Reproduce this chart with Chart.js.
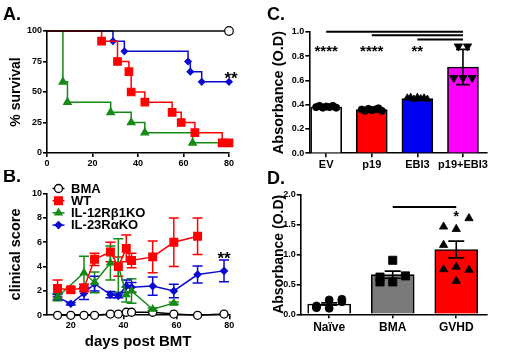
<!DOCTYPE html>
<html>
<head>
<meta charset="utf-8">
<script src="https://cdn.jsdelivr.net/npm/chart.js"></script>
<style>
  html, body { margin: 0; padding: 0; background: #fff; }
  #wrap { position: relative; width: 520px; height: 358px; overflow: hidden; }
  canvas { position: absolute; }
</style>
</head>
<body>
<div id="wrap">
  <canvas id="chartA" width="260" height="170" style="left:0px;top:0px"></canvas>
  <canvas id="chartB" width="260" height="188" style="left:0px;top:170px"></canvas>
  <canvas id="chartC" width="260" height="170" style="left:260px;top:0px"></canvas>
  <canvas id="chartD" width="260" height="188" style="left:260px;top:170px"></canvas>
</div>
<script>
// A. survival (step curves)
const survDaysBMA = [0, 80]
const survBMA = [100, 100]
const survDaysWT = [0, 24, 31, 36, 37, 43, 55, 59, 65, 77, 80]
const survWT = [100, 91.7, 75, 66.7, 50, 41.7, 33.3, 25, 16.7, 8.3, 8.3]
const survDaysIL12 = [0, 7, 9, 28, 37, 43, 64, 77]
const survIL12 = [100, 58.3, 41.7, 33.3, 25, 16.7, 8.3, 8.3]
const survDaysIL23 = [0, 29, 34, 62, 63, 68, 80]
const survIL23 = [100, 91.7, 83.3, 75, 66.7, 58.3, 58.3]
const survTicksX = [0, 20, 40, 60, 80]
const survTicksY = [0, 25, 50, 75, 100]

// B. clinical score (mean +/- SEM)
const scoreDays = [15, 20, 25, 29, 35, 38, 41, 43, 51, 59, 68, 78]
const scoreBMA = [0, 0, 0, 0, 0.1, 0.1, 0.25, 0.25, 0.25, 0.1, 0, 0.1]
const scoreDaysWT = [15, 20, 25, 29, 35, 38, 41, 43, 51, 59, 68]
const scoreWT = [2.2, 2.1, 2.25, 4.6, 5.2, 4.0, 5.5, 4.5, 4.8, 6.0, 6.5]
const semWT = [0.7, 0.2, 0.3, 0.5, 0.8, 0.8, 1.1, 0.6, 1.3, 2.0, 1.5]
const scoreDaysIL12 = [15, 25, 29, 35, 38, 41, 43, 51, 59]
const scoreIL12 = [1.5, 3.5, 2.7, 4.3, 4.1, 1.7, 2.0, 0.5, 1.0]
const semIL12 = [0.3, 1.35, 0.85, 1.4, 2.2, 0.6, 1.0, 0.1, 0.1]
const scoreIL23 = [1.5, 0.95, 1.8, 2.6, 1.7, 1.6, 2.4, 2.3, 2.4, 2.0, 3.35, 3.65]
const semIL23 = [0.2, 0.1, 0.5, 0.6, 0.25, 0.15, 0.5, 0.4, 0.75, 0.55, 0.7, 0.9]
const scoreTicksX = [20, 40, 60, 80]
const scoreTicksY = [0, 2, 4, 6, 8, 10]

// C. absorbance, transfected cells
const cLabels = ['EV', 'p19', 'EBI3', 'p19+EBI3']
const cMeans = [0.38, 0.36, 0.45, 0.71]
const cSem = [0.005, 0.005, 0.005, 0.145]
const cPointsEV = [0.38, 0.39, 0.375, 0.385, 0.38, 0.39, 0.375]
const cPointsP19 = [0.36, 0.35, 0.365, 0.355, 0.36, 0.37, 0.35]
const cPointsEBI3 = [0.455, 0.46, 0.445, 0.46, 0.45, 0.455, 0.445]
const cPointsBoth = [0.62, 0.88, 0.62, 0.88, 0.62]
const cTicksY = [0, 0.2, 0.4, 0.6, 0.8, 1.0]
const cStars = ['****', '****', '**', '']
const cCompare = [[0, 3, 1.0], [1, 3, 0.97], [2, 3, 0.935]]

// D. absorbance, serum
const dLabels = ['Naïve', 'BMA', 'GVHD']
const dMeans = [0.17, 0.66, 1.08]
const dSem = [0.02, 0.06, 0.14]
const dPointsNaive = [0.14, 0.24, 0.21, 0.11, 0.10, 0.25, 0.12]
const dPointsBMA = [0.62, 0.9, 0.64, 0.54, 0.54]
const dPointsGVHD = [1.46, 1.42, 1.6, 0.75, 0.79, 0.74, 1.155, 0.555]
const dTicksY = [0, 0.5, 1.0, 1.5, 2.0]
const dStars = ['', '', '*']
const dCompare = [[1, 2, 1.79]]

const FONT = '"Liberation Sans", Arial, Helvetica, sans-serif'
const BLACK = '#000'
const RED = '#ff0000'
const GREEN = '#158a15'
const BLUE = '#0a0ad0'

function axis(extra) {
    const ticks = Object.assign({
        color: BLACK,
        font: {family: FONT, size: 9, weight: 'bold'},
        padding: 1,
        autoSkip: false,
        maxRotation: 0
    }, extra.ticks || {})
    return Object.assign({
        border: {display: true, color: BLACK, width: 1.6},
        grid: {display: true, drawOnChartArea: false, drawTicks: true, tickLength: 4, color: BLACK, lineWidth: 1.6, offset: false}
    }, extra, {ticks: ticks})
}

const fixedTicks = (values) => (scale) => { scale.ticks = values.map(v => ({value: v})) }

function axisTitle(text, size, padding) {
    return {display: true, text: text, color: BLACK, font: {family: FONT, size: size, weight: 'bold'}, padding: padding}
}

function drawMarker(ctx, style, x, y, r, fill, stroke, lw) {
    ctx.beginPath()
    if (style === 'circle') {
        ctx.arc(x, y, r, 0, Math.PI * 2)
    } else if (style === 'rect') {
        const s = r * Math.SQRT1_2
        ctx.rect(x - s, y - s, 2 * s, 2 * s)
    } else if (style === 'triangle') {
        ctx.moveTo(x, y - r)
        ctx.lineTo(x + r * 0.866, y + r * 0.5)
        ctx.lineTo(x - r * 0.866, y + r * 0.5)
        ctx.closePath()
    } else {
        ctx.moveTo(x, y - r)
        ctx.lineTo(x + r, y)
        ctx.lineTo(x, y + r)
        ctx.lineTo(x - r, y)
        ctx.closePath()
    }
    ctx.fillStyle = fill
    ctx.fill()
    ctx.lineWidth = lw
    ctx.strokeStyle = stroke
    ctx.stroke()
}

function drawStars(ctx, text, x, yCenter, size) {
    ctx.save()
    ctx.font = `bold ${size}px ${FONT}`
    ctx.fillStyle = BLACK
    ctx.textAlign = 'center'
    ctx.textBaseline = 'alphabetic'
    ctx.fillText(text, x, yCenter + 0.55 * size)
    ctx.restore()
}

function panelLetter(letter, x, y) {
    return {
        id: 'panelLetter',
        afterDraw(chart) {
            const ctx = chart.ctx
            ctx.save()
            ctx.font = `bold 18px ${FONT}`
            ctx.fillStyle = BLACK
            ctx.textAlign = 'left'
            ctx.textBaseline = 'alphabetic'
            ctx.fillText(letter, x, y)
            ctx.restore()
        }
    }
}

// error bars from dataset.errors, drawn through the chart scales
function drawErrors(chart, onTop) {
    const ctx = chart.ctx
    const yScale = chart.scales.y
    chart.data.datasets.forEach((ds, di) => {
        if (!ds.errors || !!ds.errorsOnTop !== onTop) return
        const meta = chart.getDatasetMeta(di)
        ctx.save()
        ctx.strokeStyle = ds.errorColor || ds.borderColor
        ctx.lineWidth = ds.errorWidth || 1.5
        meta.data.forEach((el, i) => {
            const e = ds.errors[i]
            if (!e) return
            const v = meta.controller.getParsed(i).y
            const top = yScale.getPixelForValue(v + e)
            const bot = yScale.getPixelForValue(v - e)
            const half = ds.capWidth / 2
            ctx.beginPath()
            ctx.moveTo(el.x, top); ctx.lineTo(el.x, bot)
            ctx.moveTo(el.x - half, top); ctx.lineTo(el.x + half, top)
            ctx.moveTo(el.x - half, bot); ctx.lineTo(el.x + half, bot)
            ctx.stroke()
        })
        ctx.restore()
    })
}

const errorBars = {
    id: 'errorBars',
    beforeDatasetsDraw(chart) { drawErrors(chart, false) },
    afterDatasetsDraw(chart) { drawErrors(chart, true) }
}

// significance bars + stars above bar groups
function significance(compare, stars, starValue, starSize) {
    return {
        id: 'significance',
        afterDraw(chart) {
            const ctx = chart.ctx
            const xs = chart.scales.x
            const ys = chart.scales.y
            ctx.save()
            ctx.strokeStyle = BLACK
            ctx.lineWidth = 2
            compare.forEach(([a, b, v]) => {
                const y = ys.getPixelForValue(v)
                ctx.beginPath()
                ctx.moveTo(xs.getPixelForValue(a), y)
                ctx.lineTo(xs.getPixelForValue(b), y)
                ctx.stroke()
            })
            ctx.restore()
            stars.forEach((s, i) => {
                if (s) drawStars(ctx, s, xs.getPixelForValue(i), ys.getPixelForValue(starValue), starSize)
            })
        }
    }
}

const baseOptions = {
    responsive: false,
    animation: false,
    events: [],
    plugins: {legend: {display: false}, tooltip: {enabled: false}}
}

// ---------- A ----------
function survSet(label, days, vals, color, style, radius, order, fill) {
    return {
        label: label,
        data: days.map((d, i) => ({x: d, y: vals[i]})),
        borderColor: color,
        backgroundColor: color,
        pointBackgroundColor: fill || color,
        borderWidth: 1.5,
        stepped: true,
        pointStyle: style,
        pointRadius: (ctx) => ctx.dataIndex === 0 ? 0 : radius,
        pointBorderWidth: 1.2,
        clip: false,
        order: order
    }
}

new Chart(document.getElementById('chartA'), {
    type: 'line',
    data: {
        datasets: [
            survSet('BMA', survDaysBMA, survBMA, BLACK, 'circle', 4.3, 0, '#fff'),
            survSet('WT', survDaysWT, survWT, RED, 'rect', 5.3, 1),
            survSet('IL-12Rβ1KO', survDaysIL12, survIL12, GREEN, 'triangle', 4.4, 3),
            survSet('IL-23RαKO', survDaysIL23, survIL23, BLUE, 'rectRot', 3.2, 2)
        ]
    },
    options: {
        ...baseOptions,
        layout: {padding: {left: 0, right: 31, top: 31, bottom: 0}},
        scales: {
            x: axis({type: 'linear', min: 0, max: 80, afterFit: (s) => { s.height = 17 }, afterBuildTicks: fixedTicks(survTicksX)}),
            y: axis({
                min: 0, max: 100,
                afterFit: (s) => { s.width = 47 },
                afterBuildTicks: fixedTicks(survTicksY),
                title: axisTitle('% survival', 14, {top: 7.6, bottom: 0})
            })
        }
    },
    plugins: [panelLetter('A.', 3, 20), {
        id: 'starsA',
        afterDraw(chart) {
            drawStars(chart.ctx, '**', chart.scales.x.getPixelForValue(80) + 2, chart.scales.y.getPixelForValue(64), 17)
        }
    }]
})

// ---------- B ----------
function scoreSet(label, days, vals, sem, color, style, radius, order, fill) {
    return {
        label: label,
        data: days.map((d, i) => ({x: d, y: vals[i]})),
        errors: sem,
        capWidth: 10,
        errorWidth: 1.5,
        borderColor: color,
        backgroundColor: fill || color,
        pointBackgroundColor: fill || color,
        borderWidth: 1.5,
        pointStyle: style,
        pointRadius: radius,
        pointBorderWidth: 1.3,
        clip: false,
        order: order
    }
}

const legendStyles = {circle: 4, rect: 5.4, triangle: 4, rectRot: 3.4}

new Chart(document.getElementById('chartB'), {
    type: 'line',
    data: {
        datasets: [
            scoreSet('BMA', scoreDays, scoreBMA, null, BLACK, 'circle', 4, 3, '#fff'),
            scoreSet('WT', scoreDaysWT, scoreWT, semWT, RED, 'rect', 5.4, 0),
            scoreSet('IL-12Rβ1KO', scoreDaysIL12, scoreIL12, semIL12, GREEN, 'triangle', 4, 1),
            scoreSet('IL-23RαKO', scoreDays, scoreIL23, semIL23, BLUE, 'rectRot', 3.4, 2)
        ]
    },
    options: {
        ...baseOptions,
        layout: {padding: {left: 0, right: 30.7, top: 23.6, bottom: 0}},
        scales: {
            x: axis({
                type: 'linear', min: 11, max: 80,
                afterFit: (s) => { s.height = 42.7 },
                afterBuildTicks: fixedTicks(scoreTicksX),
                title: axisTitle('days post BMT', 15, {top: 0, bottom: 7.3})
            }),
            y: axis({
                min: 0, max: 10,
                afterFit: (s) => { s.width = 47 },
                afterBuildTicks: fixedTicks(scoreTicksY),
                title: axisTitle('clinical score', 14.5, {top: 7.3, bottom: 0})
            })
        }
    },
    plugins: [errorBars, panelLetter('B.', 3, 12), {
        id: 'legendB',
        afterDraw(chart) {
            const ctx = chart.ctx
            chart.data.datasets.forEach((ds, i) => {
                const y = 18.5 + i * 12.2
                ctx.save()
                ctx.strokeStyle = ds.borderColor
                ctx.lineWidth = 1.5
                ctx.beginPath()
                ctx.moveTo(52.5, y)
                ctx.lineTo(64.5, y)
                ctx.stroke()
                drawMarker(ctx, ds.pointStyle, 58.5, y, legendStyles[ds.pointStyle], ds.pointBackgroundColor, ds.borderColor, 1.3)
                ctx.font = `bold 13px ${FONT}`
                ctx.fillStyle = BLACK
                ctx.textBaseline = 'middle'
                ctx.fillText(ds.label, 71, y + 0.5)
                ctx.restore()
            })
            drawStars(ctx, '**', chart.scales.x.getPixelForValue(78), chart.scales.y.getPixelForValue(4.95), 17)
        }
    }]
})

// ---------- C ----------
const spread = (i, n, w) => n === 1 ? 0 : -w + 2 * w * i / (n - 1)
const cBarColors = ['#ffffff', RED, '#0000f0', '#ff00ff']
const cPoints = [cPointsEV, cPointsP19, cPointsEBI3, cPointsBoth]
const cPointStyles = ['circle', 'circle', 'triangle', 'triangle']
const cPointRadius = [3.6, 3.6, 4.2, 4.8]
const cPointRotation = [0, 0, 0, 180]
const cSpread = [0.22, 0.22, 0.22, 0.2]

new Chart(document.getElementById('chartC'), {
    type: 'bar',
    data: {
        datasets: [{
            type: 'bar',
            data: cMeans.map((m, i) => ({x: i, y: m})),
            backgroundColor: cBarColors,
            borderColor: BLACK,
            borderWidth: 1.6,
            barThickness: 31,
            errors: cSem,
            errorsOnTop: true,
            errorColor: BLACK,
            errorWidth: 1.6,
            capWidth: 14,
            clip: false,
            order: 5
        }].concat(cPoints.map((pts, g) => ({
            type: 'scatter',
            data: pts.map((v, i) => ({x: g + spread(i, pts.length, cSpread[g]), y: v})),
            pointStyle: cPointStyles[g],
            pointRotation: cPointRotation[g],
            pointRadius: cPointRadius[g],
            pointBackgroundColor: BLACK,
            pointBorderColor: BLACK,
            pointBorderWidth: 0.8,
            clip: false,
            order: 1
        })))
    },
    options: {
        ...baseOptions,
        layout: {padding: {left: 0, right: 33, top: 31.7, bottom: 0}},
        scales: {
            x: axis({
                type: 'linear', min: -0.37, max: 3.527, offset: false,
                afterFit: (s) => { s.height = 16.7 },
                afterBuildTicks: fixedTicks(cLabels.map((_, i) => i)),
                ticks: {callback: (v) => cLabels[v], font: {family: FONT, size: 11, weight: 'bold'}, padding: 1}
            }),
            y: axis({
                min: 0, max: 1.0,
                afterFit: (s) => { s.width = 49.3 },
                afterBuildTicks: fixedTicks(cTicksY),
                ticks: {callback: (v) => v.toFixed(1)},
                title: axisTitle('Absorbance (O.D)', 14.5, {top: 10.3, bottom: 0})
            })
        }
    },
    plugins: [errorBars, panelLetter('C.', 7, 20), significance(cCompare, cStars, 0.87, 15)]
})

// ---------- D ----------
const cols3 = (i, w) => ((i % 3) - 1) * w
const dBarColors = ['#ffffff', '#7a7a7a', RED]
const dPoints = [dPointsNaive, dPointsBMA, dPointsGVHD]
const dPointStyles = ['circle', 'rect', 'triangle']
const dPointRadius = [4, 5.8, 4.8]

new Chart(document.getElementById('chartD'), {
    type: 'bar',
    data: {
        datasets: [{
            type: 'bar',
            data: dMeans.map((m, i) => ({x: i, y: m})),
            backgroundColor: dBarColors,
            borderColor: BLACK,
            borderWidth: 1.6,
            barThickness: 43,
            errors: dSem,
            errorsOnTop: true,
            errorColor: BLACK,
            errorWidth: 1.6,
            capWidth: 16,
            clip: false,
            order: 5
        }].concat(dPoints.map((pts, g) => ({
            type: 'scatter',
            data: pts.map((v, i) => ({x: g + cols3(i, 0.2), y: v})),
            pointStyle: dPointStyles[g],
            pointRadius: dPointRadius[g],
            pointBackgroundColor: BLACK,
            pointBorderColor: BLACK,
            pointBorderWidth: 0.8,
            clip: false,
            order: 1
        })))
    },
    options: {
        ...baseOptions,
        layout: {padding: {left: 0, right: 33.3, top: 24.3, bottom: 0}},
        scales: {
            x: axis({
                type: 'linear', min: -0.448, max: 2.479, offset: false,
                afterFit: (s) => { s.height = 43.7 },
                afterBuildTicks: fixedTicks(dLabels.map((_, i) => i)),
                ticks: {callback: (v) => dLabels[v], font: {family: FONT, size: 12, weight: 'bold'}, padding: 2}
            }),
            y: axis({
                min: 0, max: 2.0,
                afterFit: (s) => { s.width = 40.7 },
                afterBuildTicks: fixedTicks(dTicksY),
                ticks: {callback: (v) => v.toFixed(1)},
                title: axisTitle('Absorbance (O.D)', 14, {top: 10.6, bottom: 0})
            })
        }
    },
    plugins: [errorBars, panelLetter('D.', 7, 14), significance(dCompare, dStars, 1.68, 14)]
})
</script>
</body>
</html>
